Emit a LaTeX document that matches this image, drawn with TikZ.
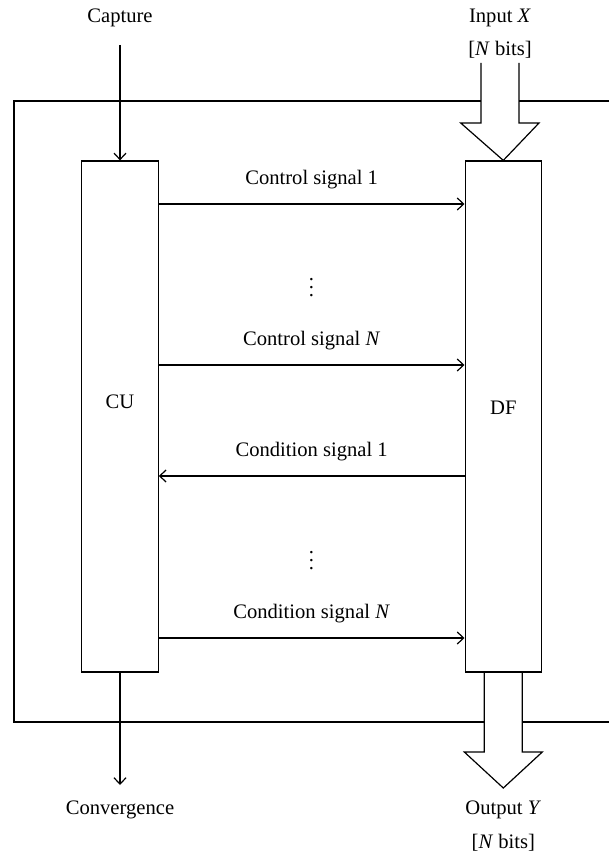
\documentclass[tikz,border=0pt]{standalone}
\usepackage{fontspec}
\setmainfont{Liberation Serif}
\usepackage{tikz}
\usetikzlibrary{calc, arrows.meta, positioning}

\tikzset{
    unit/.style={draw, line width=0.6pt, minimum width=38.2pt, minimum height=255.5pt, inner sep=0pt},
    sig/.style={->, line width=0.6pt},
    fat/.style={line width=0.6pt, line join=miter},
    txt/.style={inner sep=0pt, font=\fontsize{10.3}{12}\selectfont}
}

\begin{document}
\begin{tikzpicture}[>={Straight Barb[length=3.2pt, width=6pt]}, x=0.5pt, y=-0.5pt]
    \useasboundingbox (0,0) rectangle (609,860);

    % Hai khối CU và DF
    \node[unit] (cu) at (120,416.5) {};
    \node[unit] (df) at (503.3,416.5) {};
    \node[txt] (cutxt) at (120,402) {CU};
    \node[txt] (dftxt) at (503.3,408) {DF};

    % Khung ngoài
    \draw[fat] (609,101) -- (519,101);
    \draw[fat] (481,101) -- (14,101) -- (14,722) -- (484.3,722);
    \draw[fat] (522.3,722) -- (609,722);

    % Mũi tên lớn vào/ra
    \draw[fat] (481,63) -- (481,123) -- (460.7,123) -- (df.north) -- (539,123) -- (519,123) -- (519,63);
    \draw[fat] (484.3,672) -- (484.3,752) -- (464.3,752) -- (503.3,788) -- (542.3,752) -- (522.3,752) -- (522.3,672);
    \node[txt] (inx) at (500,18) {Input \textit{X}};
    \node[txt] (inbits) at (500,50) {[\textit{N} bits]};
    \node[txt] (outy) at (503.3,810) {Output \textit{Y}};
    \node[txt] (outbits) at (503.3,843) {[\textit{N} bits]};

    % Capture và Convergence
    \node[txt] (cap) at (120,18) {Capture};
    \coordinate (capend) at (120,45);
    \draw[sig] (capend) -- (cu.north);
    \node[txt] (conv) at (120,810) {Convergence};
    \coordinate (convend) at (120,785);
    \draw[sig] (cu.south) -- (convend);

    % Các tín hiệu
    \foreach \y/\lbl in {204/Control signal 1, 365/Control signal \textit{N}, 638/Condition signal \textit{N}} {
        \draw[sig] (cu.east |- 0,\y) -- node[txt, above=7pt] {\lbl} (df.west |- 0,\y);
    }
    \draw[sig] (df.west |- 0,476) -- node[txt, above=7pt] {Condition signal 1} (cu.east |- 0,476);

    % Dấu chấm
    \node[txt] (dots1) at (311.5,282) {$\vdots$};
    \node[txt] (dots2) at (311.5,555) {$\vdots$};
\end{tikzpicture}
\end{document}
